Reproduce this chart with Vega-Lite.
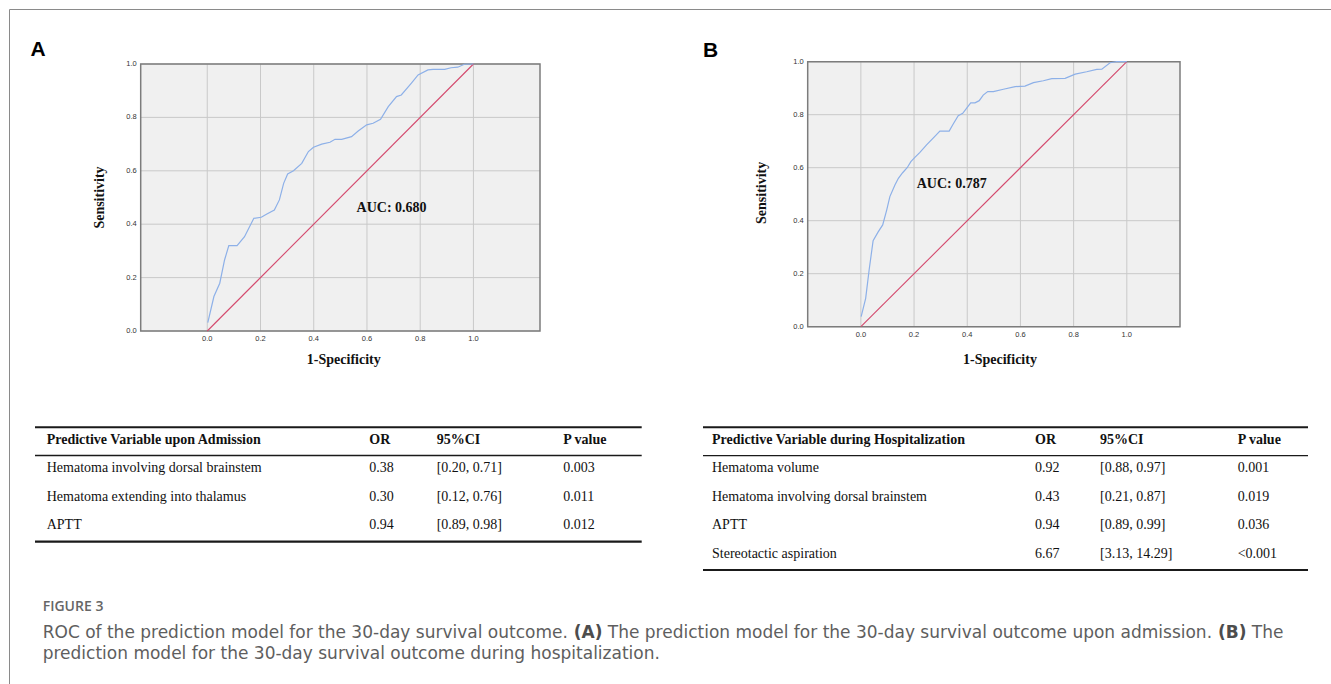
{
  "$schema": "https://vega.github.io/schema/vega-lite/v6.json",
  "width": 1322,
  "height": 675,
  "padding": {"left": 9, "top": 9, "right": 0, "bottom": 0},
  "autosize": {"type": "none"},
  "background": "white",
  "config": {
    "view": {"stroke": "#8a8a8a", "strokeWidth": 1},
    "axis": {"disable": true},
    "legend": {"disable": true}
  },
  "resolve": {"scale": {"x": "independent", "y": "independent", "strokeWidth": "independent"}},
  "datasets": {
    "rocA": [
      {"fpr": 0.002, "tpr": 0.031}, {"fpr": 0.025, "tpr": 0.129}, {"fpr": 0.047, "tpr": 0.179}, {"fpr": 0.065, "tpr": 0.266},
      {"fpr": 0.081, "tpr": 0.32}, {"fpr": 0.112, "tpr": 0.32}, {"fpr": 0.14, "tpr": 0.353}, {"fpr": 0.175, "tpr": 0.422},
      {"fpr": 0.203, "tpr": 0.426}, {"fpr": 0.224, "tpr": 0.438}, {"fpr": 0.252, "tpr": 0.453}, {"fpr": 0.271, "tpr": 0.491},
      {"fpr": 0.287, "tpr": 0.553}, {"fpr": 0.302, "tpr": 0.588}, {"fpr": 0.324, "tpr": 0.6}, {"fpr": 0.355, "tpr": 0.628},
      {"fpr": 0.38, "tpr": 0.672}, {"fpr": 0.399, "tpr": 0.688}, {"fpr": 0.43, "tpr": 0.7}, {"fpr": 0.461, "tpr": 0.707},
      {"fpr": 0.48, "tpr": 0.718}, {"fpr": 0.505, "tpr": 0.718}, {"fpr": 0.542, "tpr": 0.728}, {"fpr": 0.567, "tpr": 0.749},
      {"fpr": 0.599, "tpr": 0.772}, {"fpr": 0.623, "tpr": 0.778}, {"fpr": 0.651, "tpr": 0.793}, {"fpr": 0.68, "tpr": 0.84},
      {"fpr": 0.711, "tpr": 0.878}, {"fpr": 0.729, "tpr": 0.884}, {"fpr": 0.767, "tpr": 0.928}, {"fpr": 0.792, "tpr": 0.959},
      {"fpr": 0.829, "tpr": 0.978}, {"fpr": 0.848, "tpr": 0.98}, {"fpr": 0.892, "tpr": 0.98}, {"fpr": 0.916, "tpr": 0.986},
      {"fpr": 0.941, "tpr": 0.988}, {"fpr": 0.966, "tpr": 0.999}, {"fpr": 1.0, "tpr": 1.0}
    ],
    "rocB": [
      {"fpr": 0.001, "tpr": 0.038}, {"fpr": 0.018, "tpr": 0.107}, {"fpr": 0.031, "tpr": 0.214}, {"fpr": 0.046, "tpr": 0.325},
      {"fpr": 0.065, "tpr": 0.358}, {"fpr": 0.082, "tpr": 0.384}, {"fpr": 0.097, "tpr": 0.44}, {"fpr": 0.109, "tpr": 0.491},
      {"fpr": 0.128, "tpr": 0.535}, {"fpr": 0.141, "tpr": 0.56}, {"fpr": 0.157, "tpr": 0.581}, {"fpr": 0.174, "tpr": 0.6},
      {"fpr": 0.188, "tpr": 0.623}, {"fpr": 0.203, "tpr": 0.639}, {"fpr": 0.222, "tpr": 0.658}, {"fpr": 0.247, "tpr": 0.686},
      {"fpr": 0.279, "tpr": 0.719}, {"fpr": 0.297, "tpr": 0.738}, {"fpr": 0.332, "tpr": 0.738}, {"fpr": 0.345, "tpr": 0.761},
      {"fpr": 0.366, "tpr": 0.796}, {"fpr": 0.383, "tpr": 0.805}, {"fpr": 0.4, "tpr": 0.828}, {"fpr": 0.413, "tpr": 0.845},
      {"fpr": 0.429, "tpr": 0.845}, {"fpr": 0.445, "tpr": 0.853}, {"fpr": 0.46, "tpr": 0.874}, {"fpr": 0.477, "tpr": 0.887},
      {"fpr": 0.498, "tpr": 0.887}, {"fpr": 0.536, "tpr": 0.896}, {"fpr": 0.58, "tpr": 0.906}, {"fpr": 0.617, "tpr": 0.908},
      {"fpr": 0.649, "tpr": 0.921}, {"fpr": 0.686, "tpr": 0.928}, {"fpr": 0.718, "tpr": 0.936}, {"fpr": 0.768, "tpr": 0.937},
      {"fpr": 0.806, "tpr": 0.953}, {"fpr": 0.849, "tpr": 0.962}, {"fpr": 0.887, "tpr": 0.971}, {"fpr": 0.906, "tpr": 0.972},
      {"fpr": 0.937, "tpr": 0.996}, {"fpr": 0.962, "tpr": 1.0}, {"fpr": 1.0, "tpr": 1.0}
    ],
    "diag": [{"fpr": 0, "tpr": 0}, {"fpr": 1, "tpr": 1}],
    "ticks": [{"v": 0}, {"v": 0.2}, {"v": 0.4}, {"v": 0.6}, {"v": 0.8}, {"v": 1.0}],
    "annot": [
      {"panel": "A", "role": "letter", "text": "A"},
      {"panel": "A", "role": "ytitle", "text": "Sensitivity"},
      {"panel": "A", "role": "xtitle", "text": "1-Specificity"},
      {"panel": "A", "role": "auc", "text": "AUC: 0.680"},
      {"panel": "B", "role": "letter", "text": "B"},
      {"panel": "B", "role": "ytitle", "text": "Sensitivity"},
      {"panel": "B", "role": "xtitle", "text": "1-Specificity"},
      {"panel": "B", "role": "auc", "text": "AUC: 0.787"}
    ],
    "cells": [
      {"tbl": "A", "row": 0, "col": 0, "text": "Predictive Variable upon Admission"},
      {"tbl": "A", "row": 0, "col": 1, "text": "OR"},
      {"tbl": "A", "row": 0, "col": 2, "text": "95%CI"},
      {"tbl": "A", "row": 0, "col": 3, "text": "P value"},
      {"tbl": "A", "row": 1, "col": 0, "text": "Hematoma involving dorsal brainstem"},
      {"tbl": "A", "row": 1, "col": 1, "text": "0.38"},
      {"tbl": "A", "row": 1, "col": 2, "text": "[0.20, 0.71]"},
      {"tbl": "A", "row": 1, "col": 3, "text": "0.003"},
      {"tbl": "A", "row": 2, "col": 0, "text": "Hematoma extending into thalamus"},
      {"tbl": "A", "row": 2, "col": 1, "text": "0.30"},
      {"tbl": "A", "row": 2, "col": 2, "text": "[0.12, 0.76]"},
      {"tbl": "A", "row": 2, "col": 3, "text": "0.011"},
      {"tbl": "A", "row": 3, "col": 0, "text": "APTT"},
      {"tbl": "A", "row": 3, "col": 1, "text": "0.94"},
      {"tbl": "A", "row": 3, "col": 2, "text": "[0.89, 0.98]"},
      {"tbl": "A", "row": 3, "col": 3, "text": "0.012"},
      {"tbl": "B", "row": 0, "col": 4, "text": "Predictive Variable during Hospitalization"},
      {"tbl": "B", "row": 0, "col": 5, "text": "OR"},
      {"tbl": "B", "row": 0, "col": 6, "text": "95%CI"},
      {"tbl": "B", "row": 0, "col": 7, "text": "P value"},
      {"tbl": "B", "row": 1, "col": 4, "text": "Hematoma volume"},
      {"tbl": "B", "row": 1, "col": 5, "text": "0.92"},
      {"tbl": "B", "row": 1, "col": 6, "text": "[0.88, 0.97]"},
      {"tbl": "B", "row": 1, "col": 7, "text": "0.001"},
      {"tbl": "B", "row": 2, "col": 4, "text": "Hematoma involving dorsal brainstem"},
      {"tbl": "B", "row": 2, "col": 5, "text": "0.43"},
      {"tbl": "B", "row": 2, "col": 6, "text": "[0.21, 0.87]"},
      {"tbl": "B", "row": 2, "col": 7, "text": "0.019"},
      {"tbl": "B", "row": 3, "col": 4, "text": "APTT"},
      {"tbl": "B", "row": 3, "col": 5, "text": "0.94"},
      {"tbl": "B", "row": 3, "col": 6, "text": "[0.89, 0.99]"},
      {"tbl": "B", "row": 3, "col": 7, "text": "0.036"},
      {"tbl": "B", "row": 4, "col": 4, "text": "Stereotactic aspiration"},
      {"tbl": "B", "row": 4, "col": 5, "text": "6.67"},
      {"tbl": "B", "row": 4, "col": 6, "text": "[3.13, 14.29]"},
      {"tbl": "B", "row": 4, "col": 7, "text": "<0.001"}
    ],
    "rules": [
      {"tbl": "A", "line": 0}, {"tbl": "A", "line": 1}, {"tbl": "A", "line": 2},
      {"tbl": "B", "line": 0}, {"tbl": "B", "line": 1}, {"tbl": "B", "line": 2}
    ],
    "caption": [
      {"kind": "label", "line": 0, "seg": 0, "text": "FIGURE 3"},
      {"kind": "body", "line": 1, "seg": 0, "text": "ROC of the prediction model for the 30-day survival outcome."},
      {"kind": "emph", "line": 1, "seg": 1, "text": "(A)"},
      {"kind": "body", "line": 1, "seg": 2, "text": "The prediction model for the 30-day survival outcome upon admission."},
      {"kind": "emph", "line": 1, "seg": 3, "text": "(B)"},
      {"kind": "body", "line": 1, "seg": 4, "text": "The"},
      {"kind": "body", "line": 2, "seg": 0, "text": "prediction model for the 30-day survival outcome during hospitalization."}
    ]
  },
  "layer": [
    {
      "data": {"name": "annot"},
      "transform": [{"filter": "datum.panel === 'A' && datum.role === 'letter'"}],
      "mark": {"type": "rect", "fill": "#f0f0f0"},
      "encoding": {
        "x": {"datum": -0.25, "scale": {"domain": [-0.25, 1.25], "range": [131.7, 531], "nice": false, "zero": false}},
        "x2": {"datum": 1.25},
        "y": {"datum": 0, "scale": {"domain": [0, 1], "range": [322, 55], "nice": false, "zero": false}},
        "y2": {"datum": 1}
      }
    },
    {
      "data": {"name": "ticks"},
      "mark": {"type": "rule", "color": "#c9c9c9", "strokeWidth": 1},
      "encoding": {
        "x": {"field": "v", "type": "quantitative", "scale": {"domain": [-0.25, 1.25], "range": [131.7, 531], "nice": false, "zero": false}},
        "y": {"datum": 0, "scale": {"domain": [0, 1], "range": [322, 55], "nice": false, "zero": false}},
        "y2": {"datum": 1}
      }
    },
    {
      "data": {"name": "ticks"},
      "mark": {"type": "rule", "color": "#c9c9c9", "strokeWidth": 1},
      "encoding": {
        "y": {"field": "v", "type": "quantitative", "scale": {"domain": [0, 1], "range": [322, 55], "nice": false, "zero": false}},
        "x": {"datum": -0.25, "scale": {"domain": [-0.25, 1.25], "range": [131.7, 531], "nice": false, "zero": false}},
        "x2": {"datum": 1.25}
      }
    },
    {
      "data": {"name": "annot"},
      "transform": [{"filter": "datum.panel === 'A' && datum.role === 'letter'"}],
      "mark": {"type": "rect", "filled": false, "stroke": "#7c7c7c", "strokeWidth": 1.5},
      "encoding": {
        "x": {"datum": -0.25, "scale": {"domain": [-0.25, 1.25], "range": [131.7, 531], "nice": false, "zero": false}},
        "x2": {"datum": 1.25},
        "y": {"datum": 0, "scale": {"domain": [0, 1], "range": [322, 55], "nice": false, "zero": false}},
        "y2": {"datum": 1}
      }
    },
    {
      "data": {"name": "diag"},
      "mark": {"type": "line", "color": "#d4496d", "strokeWidth": 1.1},
      "encoding": {
        "x": {"field": "fpr", "type": "quantitative", "scale": {"domain": [-0.25, 1.25], "range": [131.7, 531], "nice": false, "zero": false}},
        "y": {"field": "tpr", "type": "quantitative", "scale": {"domain": [0, 1], "range": [322, 55], "nice": false, "zero": false}}
      }
    },
    {
      "data": {"name": "rocA"},
      "mark": {"type": "line", "color": "#8db0e8", "strokeWidth": 1.2},
      "encoding": {
        "x": {"field": "fpr", "type": "quantitative", "scale": {"domain": [-0.25, 1.25], "range": [131.7, 531], "nice": false, "zero": false}},
        "y": {"field": "tpr", "type": "quantitative", "scale": {"domain": [0, 1], "range": [322, 55], "nice": false, "zero": false}}
      }
    },
    {
      "data": {"name": "ticks"},
      "mark": {"type": "text", "font": "Liberation Sans", "fontSize": 7.5, "color": "#333", "align": "right", "baseline": "middle"},
      "encoding": {
        "y": {"field": "v", "type": "quantitative", "scale": {"domain": [0, 1], "range": [322, 55], "nice": false, "zero": false}},
        "x": {"datum": -0.265, "scale": {"domain": [-0.25, 1.25], "range": [131.7, 531], "nice": false, "zero": false}},
        "text": {"field": "v", "type": "quantitative", "format": ".1f"}
      }
    },
    {
      "data": {"name": "ticks"},
      "mark": {"type": "text", "font": "Liberation Sans", "fontSize": 7.5, "color": "#333", "align": "center", "baseline": "middle"},
      "encoding": {
        "x": {"field": "v", "type": "quantitative", "scale": {"domain": [-0.25, 1.25], "range": [131.7, 531], "nice": false, "zero": false}},
        "y": {"datum": -0.029, "scale": {"domain": [0, 1], "range": [322, 55], "nice": false, "zero": false}},
        "text": {"field": "v", "type": "quantitative", "format": ".1f"}
      }
    },
    {
      "data": {"name": "annot"},
      "transform": [{"filter": "datum.panel === 'A' && datum.role === 'ytitle'"}],
      "mark": {"type": "text", "font": "Liberation Serif", "fontWeight": "bold", "fontSize": 14, "color": "#111", "align": "center", "baseline": "middle", "angle": 270},
      "encoding": {
        "x": {"datum": -0.404, "scale": {"domain": [-0.25, 1.25], "range": [131.7, 531], "nice": false, "zero": false}},
        "y": {"datum": 0.5, "scale": {"domain": [0, 1], "range": [322, 55], "nice": false, "zero": false}},
        "text": {"field": "text"}
      }
    },
    {
      "data": {"name": "annot"},
      "transform": [{"filter": "datum.panel === 'A' && datum.role === 'xtitle'"}],
      "mark": {"type": "text", "font": "Liberation Serif", "fontWeight": "bold", "fontSize": 14, "color": "#111", "align": "center", "baseline": "middle"},
      "encoding": {
        "x": {"datum": 0.513, "scale": {"domain": [-0.25, 1.25], "range": [131.7, 531], "nice": false, "zero": false}},
        "y": {"datum": -0.109, "scale": {"domain": [0, 1], "range": [322, 55], "nice": false, "zero": false}},
        "text": {"field": "text"}
      }
    },
    {
      "data": {"name": "annot"},
      "transform": [{"filter": "datum.panel === 'A' && datum.role === 'auc'"}],
      "mark": {"type": "text", "font": "Liberation Serif", "fontWeight": "bold", "fontSize": 14, "color": "#111", "align": "left", "baseline": "middle"},
      "encoding": {
        "x": {"datum": 0.561, "scale": {"domain": [-0.25, 1.25], "range": [131.7, 531], "nice": false, "zero": false}},
        "y": {"datum": 0.462, "scale": {"domain": [0, 1], "range": [322, 55], "nice": false, "zero": false}},
        "text": {"field": "text"}
      }
    },
    {
      "data": {"name": "annot"},
      "transform": [{"filter": "datum.panel === 'A' && datum.role === 'letter'"}],
      "mark": {"type": "text", "font": "Liberation Sans", "fontWeight": "bold", "fontSize": 21, "color": "#000", "align": "left", "baseline": "middle"},
      "encoding": {
        "x": {"datum": -0.664, "scale": {"domain": [-0.25, 1.25], "range": [131.7, 531], "nice": false, "zero": false}},
        "y": {"datum": 1.0506, "scale": {"domain": [0, 1], "range": [322, 55], "nice": false, "zero": false}},
        "text": {"field": "text"}
      }
    },
    {
      "data": {"name": "annot"},
      "transform": [{"filter": "datum.panel === 'B' && datum.role === 'letter'"}],
      "mark": {"type": "rect", "fill": "#f0f0f0"},
      "encoding": {
        "x": {"datum": -0.2, "scale": {"domain": [-0.2, 1.2], "range": [798.7, 1171], "nice": false, "zero": false}},
        "x2": {"datum": 1.2},
        "y": {"datum": 0, "scale": {"domain": [0, 1], "range": [317.7, 52.7], "nice": false, "zero": false}},
        "y2": {"datum": 1}
      }
    },
    {
      "data": {"name": "ticks"},
      "mark": {"type": "rule", "color": "#c9c9c9", "strokeWidth": 1},
      "encoding": {
        "x": {"field": "v", "type": "quantitative", "scale": {"domain": [-0.2, 1.2], "range": [798.7, 1171], "nice": false, "zero": false}},
        "y": {"datum": 0, "scale": {"domain": [0, 1], "range": [317.7, 52.7], "nice": false, "zero": false}},
        "y2": {"datum": 1}
      }
    },
    {
      "data": {"name": "ticks"},
      "mark": {"type": "rule", "color": "#c9c9c9", "strokeWidth": 1},
      "encoding": {
        "y": {"field": "v", "type": "quantitative", "scale": {"domain": [0, 1], "range": [317.7, 52.7], "nice": false, "zero": false}},
        "x": {"datum": -0.2, "scale": {"domain": [-0.2, 1.2], "range": [798.7, 1171], "nice": false, "zero": false}},
        "x2": {"datum": 1.2}
      }
    },
    {
      "data": {"name": "annot"},
      "transform": [{"filter": "datum.panel === 'B' && datum.role === 'letter'"}],
      "mark": {"type": "rect", "filled": false, "stroke": "#7c7c7c", "strokeWidth": 1.5},
      "encoding": {
        "x": {"datum": -0.2, "scale": {"domain": [-0.2, 1.2], "range": [798.7, 1171], "nice": false, "zero": false}},
        "x2": {"datum": 1.2},
        "y": {"datum": 0, "scale": {"domain": [0, 1], "range": [317.7, 52.7], "nice": false, "zero": false}},
        "y2": {"datum": 1}
      }
    },
    {
      "data": {"name": "diag"},
      "mark": {"type": "line", "color": "#d4496d", "strokeWidth": 1.1},
      "encoding": {
        "x": {"field": "fpr", "type": "quantitative", "scale": {"domain": [-0.2, 1.2], "range": [798.7, 1171], "nice": false, "zero": false}},
        "y": {"field": "tpr", "type": "quantitative", "scale": {"domain": [0, 1], "range": [317.7, 52.7], "nice": false, "zero": false}}
      }
    },
    {
      "data": {"name": "rocB"},
      "mark": {"type": "line", "color": "#8db0e8", "strokeWidth": 1.2},
      "encoding": {
        "x": {"field": "fpr", "type": "quantitative", "scale": {"domain": [-0.2, 1.2], "range": [798.7, 1171], "nice": false, "zero": false}},
        "y": {"field": "tpr", "type": "quantitative", "scale": {"domain": [0, 1], "range": [317.7, 52.7], "nice": false, "zero": false}}
      }
    },
    {
      "data": {"name": "ticks"},
      "mark": {"type": "text", "font": "Liberation Sans", "fontSize": 7.5, "color": "#333", "align": "right", "baseline": "middle"},
      "encoding": {
        "y": {"field": "v", "type": "quantitative", "scale": {"domain": [0, 1], "range": [317.7, 52.7], "nice": false, "zero": false}},
        "x": {"datum": -0.215, "scale": {"domain": [-0.2, 1.2], "range": [798.7, 1171], "nice": false, "zero": false}},
        "text": {"field": "v", "type": "quantitative", "format": ".1f"}
      }
    },
    {
      "data": {"name": "ticks"},
      "mark": {"type": "text", "font": "Liberation Sans", "fontSize": 7.5, "color": "#333", "align": "center", "baseline": "middle"},
      "encoding": {
        "x": {"field": "v", "type": "quantitative", "scale": {"domain": [-0.2, 1.2], "range": [798.7, 1171], "nice": false, "zero": false}},
        "y": {"datum": -0.031, "scale": {"domain": [0, 1], "range": [317.7, 52.7], "nice": false, "zero": false}},
        "text": {"field": "v", "type": "quantitative", "format": ".1f"}
      }
    },
    {
      "data": {"name": "annot"},
      "transform": [{"filter": "datum.panel === 'B' && datum.role === 'ytitle'"}],
      "mark": {"type": "text", "font": "Liberation Serif", "fontWeight": "bold", "fontSize": 14, "color": "#111", "align": "center", "baseline": "middle", "angle": 270},
      "encoding": {
        "x": {"datum": -0.373, "scale": {"domain": [-0.2, 1.2], "range": [798.7, 1171], "nice": false, "zero": false}},
        "y": {"datum": 0.505, "scale": {"domain": [0, 1], "range": [317.7, 52.7], "nice": false, "zero": false}},
        "text": {"field": "text"}
      }
    },
    {
      "data": {"name": "annot"},
      "transform": [{"filter": "datum.panel === 'B' && datum.role === 'xtitle'"}],
      "mark": {"type": "text", "font": "Liberation Serif", "fontWeight": "bold", "fontSize": 14, "color": "#111", "align": "center", "baseline": "middle"},
      "encoding": {
        "x": {"datum": 0.523, "scale": {"domain": [-0.2, 1.2], "range": [798.7, 1171], "nice": false, "zero": false}},
        "y": {"datum": -0.126, "scale": {"domain": [0, 1], "range": [317.7, 52.7], "nice": false, "zero": false}},
        "text": {"field": "text"}
      }
    },
    {
      "data": {"name": "annot"},
      "transform": [{"filter": "datum.panel === 'B' && datum.role === 'auc'"}],
      "mark": {"type": "text", "font": "Liberation Serif", "fontWeight": "bold", "fontSize": 14, "color": "#111", "align": "left", "baseline": "middle"},
      "encoding": {
        "x": {"datum": 0.21, "scale": {"domain": [-0.2, 1.2], "range": [798.7, 1171], "nice": false, "zero": false}},
        "y": {"datum": 0.537, "scale": {"domain": [0, 1], "range": [317.7, 52.7], "nice": false, "zero": false}},
        "text": {"field": "text"}
      }
    },
    {
      "data": {"name": "annot"},
      "transform": [{"filter": "datum.panel === 'B' && datum.role === 'letter'"}],
      "mark": {"type": "text", "font": "Liberation Sans", "fontWeight": "bold", "fontSize": 21, "color": "#000", "align": "left", "baseline": "middle"},
      "encoding": {
        "x": {"datum": -0.594, "scale": {"domain": [-0.2, 1.2], "range": [798.7, 1171], "nice": false, "zero": false}},
        "y": {"datum": 1.0415, "scale": {"domain": [0, 1], "range": [317.7, 52.7], "nice": false, "zero": false}},
        "text": {"field": "text"}
      }
    },
    {
      "data": {"name": "rules"},
      "transform": [{"filter": "datum.tbl === 'A'"}],
      "mark": {"type": "rule", "color": "#1a1a1a"},
      "encoding": {
        "y": {"field": "line", "type": "quantitative", "scale": {"domain": [0, 1, 2], "range": [418.3, 446.5, 532.7], "nice": false, "zero": false}},
        "x": {"datum": 0, "scale": {"domain": [0, 1], "range": [26, 632.7], "nice": false, "zero": false}},
        "x2": {"datum": 1},
        "strokeWidth": {"field": "line", "type": "quantitative", "scale": {"domain": [0, 1, 2], "range": [2, 1.3, 2.2], "zero": false, "nice": false}, "legend": null}
      }
    },
    {
      "data": {"name": "rules"},
      "transform": [{"filter": "datum.tbl === 'B'"}],
      "mark": {"type": "rule", "color": "#1a1a1a"},
      "encoding": {
        "y": {"field": "line", "type": "quantitative", "scale": {"domain": [0, 1, 2], "range": [418.3, 446.7, 561], "nice": false, "zero": false}},
        "x": {"datum": 0, "scale": {"domain": [0, 1], "range": [694, 1299], "nice": false, "zero": false}},
        "x2": {"datum": 1},
        "strokeWidth": {"field": "line", "type": "quantitative", "scale": {"domain": [0, 1, 2], "range": [2, 1.3, 2.2], "zero": false, "nice": false}, "legend": null}
      }
    },
    {
      "data": {"name": "cells"},
      "transform": [{"filter": "datum.row === 0"}],
      "mark": {"type": "text", "font": "Liberation Serif", "fontWeight": "bold", "fontSize": 14, "color": "#111", "align": "left", "baseline": "middle"},
      "encoding": {
        "x": {"field": "col", "type": "quantitative", "scale": {"domain": [0, 1, 2, 3, 4, 5, 6, 7], "range": [37.7, 360.3, 427.7, 554.3, 703, 1026, 1091, 1228.7], "nice": false, "zero": false}},
        "y": {"field": "row", "type": "quantitative", "scale": {"domain": [0, 1, 2, 3, 4], "range": [430.6, 459, 487.5, 515.8, 544.8], "nice": false, "zero": false}},
        "text": {"field": "text"}
      }
    },
    {
      "data": {"name": "cells"},
      "transform": [{"filter": "datum.row > 0"}],
      "mark": {"type": "text", "font": "Liberation Serif", "fontSize": 14, "color": "#111", "align": "left", "baseline": "middle"},
      "encoding": {
        "x": {"field": "col", "type": "quantitative", "scale": {"domain": [0, 1, 2, 3, 4, 5, 6, 7], "range": [37.7, 360.3, 427.7, 554.3, 703, 1026, 1091, 1228.7], "nice": false, "zero": false}},
        "y": {"field": "row", "type": "quantitative", "scale": {"domain": [0, 1, 2, 3, 4], "range": [430.6, 459, 487.5, 515.8, 544.8], "nice": false, "zero": false}},
        "text": {"field": "text"}
      }
    },
    {
      "data": {"name": "caption"},
      "transform": [{"filter": "datum.kind === 'label'"}],
      "mark": {"type": "text", "font": "Open Sans", "fontWeight": 600, "fontSize": 14, "color": "#666", "align": "left", "baseline": "middle"},
      "encoding": {
        "x": {"field": "seg", "type": "quantitative", "scale": {"domain": [0, 1, 2, 3, 4], "range": [33.7, 564.7, 598.8, 1208.9, 1242.8], "nice": false, "zero": false}},
        "y": {"field": "line", "type": "quantitative", "scale": {"domain": [0, 1, 2], "range": [598, 623.7, 645], "nice": false, "zero": false}},
        "text": {"field": "text"}
      }
    },
    {
      "data": {"name": "caption"},
      "transform": [{"filter": "datum.kind === 'body'"}],
      "mark": {"type": "text", "font": "DejaVu Sans", "fontSize": 17, "color": "#5e5e5e", "align": "left", "baseline": "middle"},
      "encoding": {
        "x": {"field": "seg", "type": "quantitative", "scale": {"domain": [0, 1, 2, 3, 4], "range": [33.7, 564.7, 598.8, 1208.9, 1242.8], "nice": false, "zero": false}},
        "y": {"field": "line", "type": "quantitative", "scale": {"domain": [0, 1, 2], "range": [598, 623.7, 645], "nice": false, "zero": false}},
        "text": {"field": "text"}
      }
    },
    {
      "data": {"name": "caption"},
      "transform": [{"filter": "datum.kind === 'emph'"}],
      "mark": {"type": "text", "font": "DejaVu Sans", "fontWeight": "bold", "fontSize": 17, "color": "#4d4d4d", "align": "left", "baseline": "middle"},
      "encoding": {
        "x": {"field": "seg", "type": "quantitative", "scale": {"domain": [0, 1, 2, 3, 4], "range": [33.7, 564.7, 598.8, 1208.9, 1242.8], "nice": false, "zero": false}},
        "y": {"field": "line", "type": "quantitative", "scale": {"domain": [0, 1, 2], "range": [598, 623.7, 645], "nice": false, "zero": false}},
        "text": {"field": "text"}
      }
    }
  ]
}
